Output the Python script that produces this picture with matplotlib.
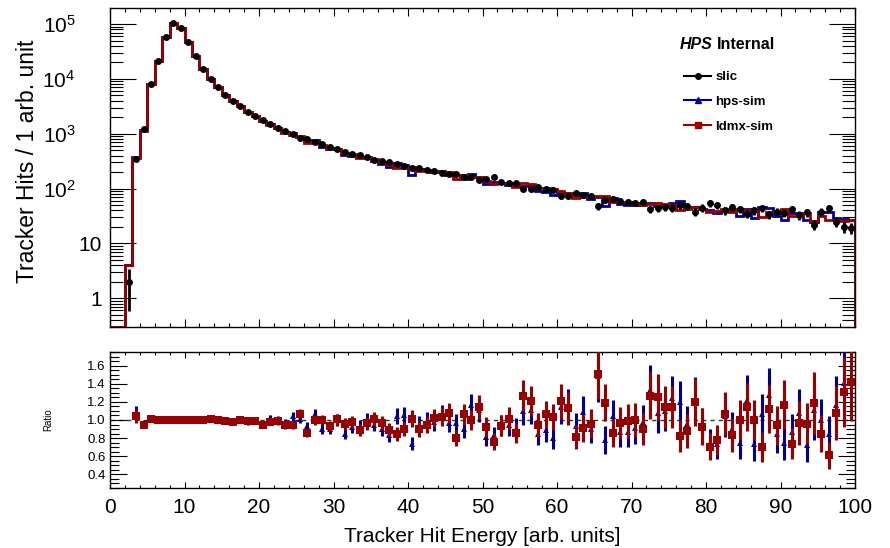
import numpy as np
import matplotlib
matplotlib.use("Agg")
import matplotlib.pyplot as plt
from matplotlib.lines import Line2D
from matplotlib.ticker import MultipleLocator, LogLocator, FuncFormatter, NullFormatter

plt.rcParams['font.family'] = ['Liberation Sans', 'DejaVu Sans']
plt.rcParams['mathtext.fontset'] = 'custom'
plt.rcParams['mathtext.rm'] = 'Liberation Sans'

# binning: 1 arb. unit bins from 0 to 100
bin_edges = np.arange(0, 101, 1)

# slic (reference) hits per bin
slic_counts = [
    0, 0, 2, 350, 1200, 8100, 21000, 58000, 105000, 85000,
    47000, 26000, 15500, 10000, 7200, 5200, 4050, 3200, 2550, 2150,
    1800, 1500, 1270, 1120, 990, 850, 800, 710, 640, 585,
    520, 475, 432, 405, 370, 340, 318, 300, 282, 262,
    240, 236, 222, 206, 196, 184, 185, 166, 160, 145,
    150, 160, 134, 126, 125, 100, 100, 108, 98, 96,
    74, 73, 82, 76, 72, 48, 62, 66, 60, 57,
    55, 56, 42, 44, 46, 45, 50, 48, 38, 45,
    54, 50, 40, 46, 42, 35, 40, 44, 34, 38,
    36, 42, 33, 37, 22, 38, 44, 25, 20, 19,
]

# ratio hps-sim / slic
ratio_hps = [
    np.nan, np.nan, 2.0, 1.07, 0.96, 1.0, 1.0, 1.0, 1.0, 1.0,
    1.0, 1.0, 1.0, 1.005, 1.0, 0.99, 0.985, 1.01, 0.975, 1.0,
    0.96, 1.02, 1.0, 0.97, 1.04, 1.014, 0.935, 1.07, 0.9, 0.9,
    1.0, 0.85, 0.92, 0.93, 1.007, 0.95, 0.9, 0.833, 1.043, 1.05,
    0.74, 0.95, 0.99, 0.98, 1.06, 0.97, 0.964, 0.906, 1.166, 1.11,
    0.81, 0.83, 0.94, 0.94, 0.906, 1.1, 1.11, 0.84, 0.89, 0.8,
    1.14, 1.16, 0.93, 1.09, 0.9, 1.48, 0.78, 1.04, 0.87, 0.87,
    0.91, 0.98, 1.33, 1.08, 1.1, 1.24, 1.2, 0.96, 1.21, 0.93,
    0.75, 0.73, 1.04, 0.9, 0.75, 1.22, 0.73, 1.065, 1.28, 0.84,
    0.75, 0.87, 1.08, 0.72, 1.11, 1.0, 0.85, 1.17, 1.41, 1.42,
]

# ratio ldmx-sim / slic
ratio_ldmx = [
    np.nan, np.nan, 2.0, 1.045, 0.95, 1.015, 1.0, 0.995, 1.0, 1.0,
    1.005, 1.0, 1.0, 1.008, 1.0, 0.986, 0.98, 1.0, 0.993, 0.986,
    0.944, 0.98, 0.988, 0.94, 0.944, 1.07, 0.855, 1.0, 0.995, 0.935,
    1.008, 0.955, 0.98, 0.89, 0.964, 1.007, 0.971, 0.89, 0.848, 0.9,
    1.015, 0.9, 0.942, 1.022, 1.036, 1.072, 0.797, 1.065, 1.0, 1.145,
    0.92, 0.76, 0.935, 1.015, 0.855, 1.27, 1.21, 0.948, 1.062, 1.033,
    1.205, 1.132, 0.812, 0.912, 0.958, 1.51, 1.19, 0.86, 0.964, 0.986,
    1.0, 0.9, 1.27, 1.25, 1.145, 1.14, 0.826, 0.877, 1.2, 0.928,
    0.705, 0.78, 1.07, 0.83, 1.0, 1.145, 1.0, 0.70, 1.12, 0.94,
    1.17, 0.74, 0.97, 0.96, 1.19, 0.85, 0.61, 1.075, 1.31, 1.415,
]

RED = '#990000'
BLUE = '#000099'

slic = np.array(slic_counts, dtype=float)
r_hps = np.array(ratio_hps)
r_ldmx = np.array(ratio_ldmx)
hps = np.nan_to_num(slic * r_hps)
ldmx = np.nan_to_num(slic * r_ldmx)
centers = 0.5 * (bin_edges[:-1] + bin_edges[1:])

fig = plt.figure(figsize=(8.9, 5.48), dpi=100)
ax = fig.add_axes([0.1236, 0.4033, 0.8371, 0.5821])
rax = fig.add_axes([0.1236, 0.1095, 0.8371, 0.2482], sharex=ax)

YMIN, YMAX = 0.3, 1.97e5

# main panel
ax.stairs(np.maximum(hps, YMIN), bin_edges, color=BLUE, lw=2, zorder=2)
ax.stairs(np.maximum(ldmx, YMIN), bin_edges, color=RED, lw=2, zorder=3)
ok = slic > 0
ax.errorbar(centers[ok], slic[ok], yerr=np.sqrt(slic[ok]), fmt='o', color='black',
            ms=5, mew=0, elinewidth=2, capsize=0, zorder=4)
ax.set_yscale('log')
ax.set_ylim(YMIN, YMAX)
ax.set_xlim(0, 100)


def log_label(v, pos):
    n = int(round(np.log10(v)))
    if n == 0:
        return '1'
    if n == 1:
        return '10'
    return r'$\mathregular{10^{%d}}$' % n


ax.yaxis.set_major_locator(LogLocator(base=10, numticks=10))
ax.yaxis.set_minor_locator(LogLocator(base=10, subs=np.arange(2, 10), numticks=20))
ax.yaxis.set_major_formatter(FuncFormatter(log_label))
ax.yaxis.set_minor_formatter(NullFormatter())
ax.xaxis.set_major_locator(MultipleLocator(10))
ax.xaxis.set_minor_locator(MultipleLocator(2))
ax.tick_params(which='both', direction='in', top=True, right=True, labelbottom=False,
               width=0.8)
ax.tick_params(axis='y', which='major', length=18.7, labelsize=15, pad=6)
ax.tick_params(axis='y', which='minor', length=9.4)
ax.tick_params(axis='x', which='major', length=5.8)
ax.tick_params(axis='x', which='minor', length=2.9)
ax.set_ylabel('Tracker Hits / 1 arb. unit', fontsize=16.5)
ax.yaxis.set_label_coords(-0.095, 0.52)

# HPS Internal tag
t1 = ax.text(0.765, 0.887, 'HPS', transform=ax.transAxes, fontsize=11.5,
             fontweight='bold', fontstyle='italic', va='center', ha='left')
ax.annotate('Internal', xy=(1, 0.5), xycoords=t1, xytext=(3, 0),
            textcoords='offset points', fontsize=11.5, fontweight='bold',
            va='center', ha='left')

handles = [
    Line2D([], [], color='black', marker='o', ms=4, lw=1.5),
    Line2D([], [], color=BLUE, marker='^', ms=4, lw=1.5),
    Line2D([], [], color=RED, marker='s', ms=4, lw=1.5),
]
ax.legend(handles, ['slic', 'hps-sim', 'ldmx-sim'], loc='upper left',
          bbox_to_anchor=(0.762, 0.823), frameon=False, borderpad=0,
          handlelength=2.0, handletextpad=0.35, labelspacing=0.95,
          prop={'weight': 'bold', 'size': 9.5})

# ratio panel
for r, col, mk, ms, z in [(r_hps, BLUE, '^', 4.5, 3), (r_ldmx, RED, 's', 5.5, 4)]:
    sim = slic * r
    good = np.isfinite(r) & (r > 0.25) & (r < 1.75)
    err = r[good] * np.sqrt(1.0 / slic[good] + 1.0 / sim[good])
    rax.errorbar(centers[good], r[good], yerr=err, fmt=mk, color=col, ms=ms,
                 mew=0, elinewidth=2.2, capsize=0, zorder=z)
rax.axhline(1.0, color='#333333', lw=1, ls=(0, (3, 3)), zorder=1)
rax.set_ylim(0.25, 1.75)
rax.set_xlim(0, 100)
rax.yaxis.set_major_locator(MultipleLocator(0.2))
rax.yaxis.set_minor_locator(MultipleLocator(0.05))
rax.xaxis.set_major_locator(MultipleLocator(10))
rax.xaxis.set_minor_locator(MultipleLocator(2))
rax.yaxis.set_major_formatter(FuncFormatter(lambda v, p: '%.1f' % v))
rax.tick_params(which='both', direction='in', top=True, right=True, width=0.8)
rax.tick_params(axis='y', which='major', length=12, labelsize=9.5, pad=3)
rax.tick_params(axis='y', which='minor', length=6.5)
rax.tick_params(axis='x', which='major', length=4, labelsize=15, pad=7)
rax.tick_params(axis='x', which='minor', length=2)
rax.set_ylabel('Ratio', fontsize=7)
rax.yaxis.set_label_coords(-0.076, 0.5)
rax.set_xlabel('Tracker Hit Energy [arb. units]', fontsize=15)
rax.xaxis.set_label_coords(0.5, -0.29)

# ROOT puts the 10^n labels further left than the plain ones
fig.canvas.draw()
for tick in ax.yaxis.get_major_ticks():
    if '^' in tick.label1.get_text():
        tick.label1.set_x(-0.035)

for a in (ax, rax):
    for s in a.spines.values():
        s.set_linewidth(1.0)

fig.savefig('out.png', dpi=100)
